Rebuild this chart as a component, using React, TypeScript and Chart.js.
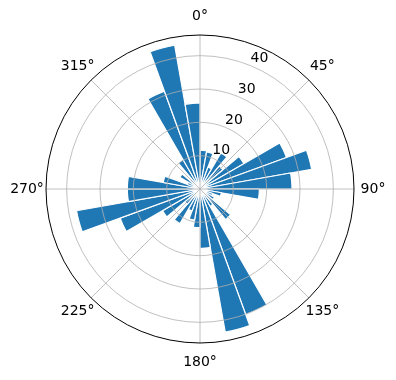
import React, { useEffect, useRef } from 'react';
import { Chart, registerables } from 'chart.js';

Chart.register(...registerables);

// Direction bins (start angle in degrees, each bin 10° wide, clockwise from north)
const binStarts = [
  0, 10, 20, 30, 40, 50, 60, 70, 80, 90, 100, 110,
  120, 130, 140, 150, 160, 170, 180, 190, 200, 210, 220, 230,
  240, 250, 260, 270, 280, 290, 300, 310, 320, 330, 340, 350,
];
// Bar heights
const counts = [
  11.6, 11.3, 7, 12.5, 9, 15.2, 27.6, 34, 27.6, 17.8, 6.5, 4,
  5, 12, 6, 40.1, 43.6, 17.8, 11.6, 9.5, 7, 12, 6, 13,
  25.5, 37.6, 21.8, 21.8, 11.2, 4, 7, 4, 10.2, 31.2, 43.8, 25.8,
];
const radialTicks = [10, 20, 30, 40];
const angleTickDegrees = [0, 45, 90, 135, 180, 225, 270, 315];
const angleTickLabels = ['0°', '45°', '90°', '135°', '180°', '225°', '270°', '315°'];
const rMax = 46.2;

const FONT = '14px "DejaVu Sans", sans-serif';

const polarGridPlugin = {
  id: 'polarGridOnTop',
  afterDatasetsDraw(chart: any) {
    const scale = chart.scales.r;
    const ctx = chart.ctx as CanvasRenderingContext2D;
    const cx = scale.xCenter;
    const cy = scale.yCenter;
    const R = scale.getDistanceFromCenterForValue(rMax);
    ctx.save();
    // grid circles
    ctx.strokeStyle = '#b0b0b0';
    ctx.lineWidth = 0.8;
    radialTicks.forEach((v) => {
      const r = scale.getDistanceFromCenterForValue(v);
      ctx.beginPath();
      ctx.arc(cx, cy, r, 0, Math.PI * 2);
      ctx.stroke();
    });
    // angle lines
    angleTickDegrees.forEach((d) => {
      const a = (d * Math.PI) / 180;
      ctx.beginPath();
      ctx.moveTo(cx, cy);
      ctx.lineTo(cx + R * Math.sin(a), cy - R * Math.cos(a));
      ctx.stroke();
    });
    // outer spine
    ctx.strokeStyle = '#000000';
    ctx.lineWidth = 1;
    ctx.beginPath();
    ctx.arc(cx, cy, R, 0, Math.PI * 2);
    ctx.stroke();
    // angle labels
    ctx.font = FONT;
    ctx.fillStyle = '#000000';
    ctx.textAlign = 'center';
    ctx.textBaseline = 'middle';
    angleTickDegrees.forEach((d, i) => {
      const a = (d * Math.PI) / 180;
      const rr = R + 19;
      ctx.fillText(angleTickLabels[i], cx + rr * Math.sin(a), cy - rr * Math.cos(a));
    });
    // radial tick labels at 22.5°
    const la = (22.5 * Math.PI) / 180;
    radialTicks.forEach((v) => {
      const r = scale.getDistanceFromCenterForValue(v);
      const x = cx + r * Math.sin(la) + 8.5;
      const y = cy - r * Math.cos(la) - 7.5;
      ctx.fillText(String(v), x, y);
    });
    ctx.restore();
  },
};

export default function App() {
  const canvasRef = useRef<HTMLCanvasElement | null>(null);

  useEffect(() => {
    if (!canvasRef.current) return;
    const chart = new Chart(canvasRef.current, {
      type: 'polarArea',
      data: {
        labels: binStarts.map((s) => `${s}°`),
        datasets: [
          {
            data: counts,
            backgroundColor: '#1f77b4',
            borderColor: '#ffffff',
            borderWidth: 1.2,
          },
        ],
      },
      options: {
        responsive: false,
        animation: false,
        layout: { padding: { left: 46, right: 42, top: 35, bottom: 37 } },
        plugins: {
          legend: { display: false },
          tooltip: { enabled: false },
        },
        scales: {
          r: {
            min: 0,
            max: rMax,
            startAngle: 0,
            grid: { display: false },
            angleLines: { display: false },
            pointLabels: { display: false },
            ticks: { display: false, stepSize: 10 },
          },
        },
      },
      plugins: [polarGridPlugin],
    });
    return () => chart.destroy();
  }, []);

  return (
    <div style={{ position: 'absolute', left: 0, top: 0, width: 396, height: 380, background: '#ffffff' }}>
      <canvas ref={canvasRef} width={396} height={380} style={{ width: 396, height: 380 }} />
    </div>
  );
}
